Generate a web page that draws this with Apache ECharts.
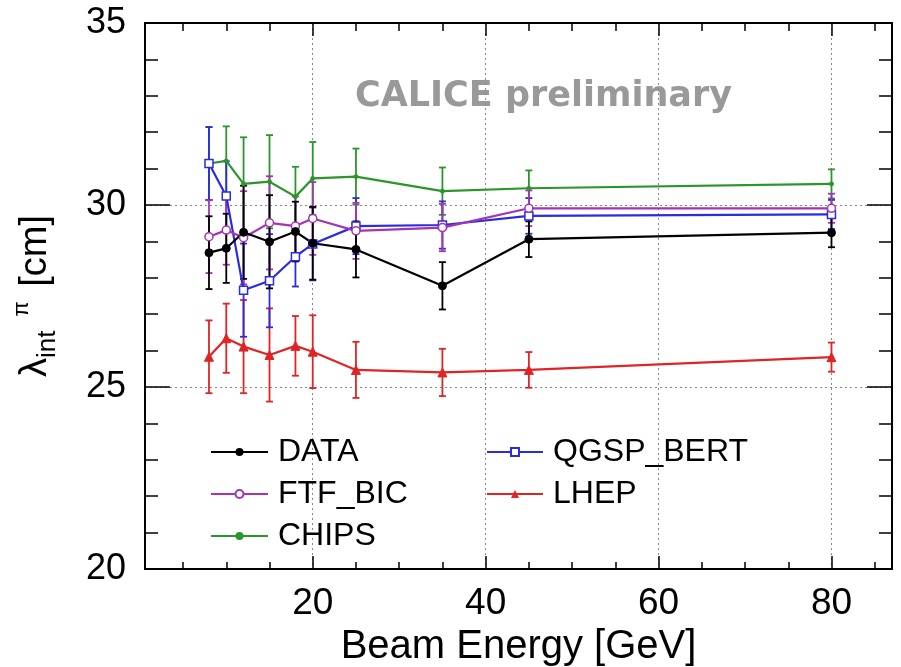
<!DOCTYPE html>
<html>
<head>
<meta charset="utf-8">
<style>
  html, body { margin: 0; padding: 0; background: #fff; }
  #main { width: 901px; height: 667px; }
</style>
<script src="https://cdn.jsdelivr.net/npm/echarts@6/dist/echarts.min.js"></script>
</head>
<body>
<div id="main"></div>
<script>
// beam energies [GeV]
const energies = [8, 10, 12, 15, 18, 20, 25, 35, 45, 80];
// lambda_int^pi [cm]
const dataVals  = [28.69, 28.81, 29.25, 28.99, 29.27, 28.95, 28.78, 27.78, 29.06, 29.24];
const ftfVals   = [29.13, 29.31, 29.10, 29.51, 29.42, 29.63, 29.29, 29.38, 29.91, 29.91];
const chipsVals = [31.14, 31.21, 30.58, 30.64, 30.23, 30.73, 30.78, 30.38, 30.46, 30.58];
const qgspVals  = [31.14, 30.25, 27.66, 27.92, 28.58, 28.93, 29.42, 29.45, 29.70, 29.74];
const lhepVals  = [25.83, 26.34, 26.11, 25.88, 26.13, 25.97, 25.47, 25.40, 25.47, 25.82];
// half-length of the error bars (same for every curve)
const errVals   = [1.00, 0.95, 1.28, 1.28, 0.82, 1.00, 0.77, 0.65, 0.49, 0.40];

const xMajor = [20, 40, 60, 80];
const xMinor = [5, 10, 15, 25, 30, 35, 45, 50, 55, 65, 70, 75, 85];

var dom = document.getElementById('main');
var myChart = echarts.init(dom, null, { renderer: 'canvas' });

const font = 'Liberation Sans, Arial, sans-serif';

function points(vals) {
    return energies.map((e, i) => [e, vals[i]]);
}
function bars(vals) {
    return energies.map((e, i) => [e, vals[i] - errVals[i], vals[i] + errVals[i]]);
}
function errorBars(name, vals, color) {
    return {
        name: name + ' err',
        type: 'custom',
        data: bars(vals),
        encode: { x: 0, y: [1, 2] },
        silent: true,
        z: 2,
        renderItem: function (params, api) {
            const x = api.value(0);
            const lo = api.coord([x, api.value(1)]);
            const hi = api.coord([x, api.value(2)]);
            const w = 3.5;
            const style = { stroke: color, lineWidth: 1.8 };
            return {
                type: 'group',
                children: [
                    { type: 'line', shape: { x1: lo[0], y1: lo[1], x2: hi[0], y2: hi[1] }, style: style },
                    { type: 'line', shape: { x1: lo[0] - w, y1: lo[1], x2: lo[0] + w, y2: lo[1] }, style: style },
                    { type: 'line', shape: { x1: hi[0] - w, y1: hi[1], x2: hi[0] + w, y2: hi[1] }, style: style }
                ]
            };
        }
    };
}
function curve(name, vals, color, symbol, size, hollow) {
    return {
        name: name,
        type: 'line',
        data: points(vals),
        symbol: symbol,
        symbolSize: size,
        showAllSymbol: true,
        z: 3,
        lineStyle: { color: color, width: 2.2 },
        itemStyle: hollow
            ? { color: '#fff', borderColor: color, borderWidth: 1.5 }
            : { color: color, borderColor: color },
        emphasis: { disabled: true }
    };
}

const frame = { show: true, onZero: false, lineStyle: { color: '#000', width: 2 } };
const dotted = { show: true, lineStyle: { color: '#888', width: 1, type: [2, 3] } };

function xAxisDef(position, ticks, len, withLabels) {
    return {
        type: 'value',
        position: position,
        min: 0.6,
        max: 87,
        axisLine: frame,
        axisTick: { show: true, inside: true, length: len, customValues: ticks,
                    lineStyle: { color: '#000', width: 1.5 } },
        axisLabel: withLabels
            ? { show: true, customValues: ticks, margin: 16, color: '#000', fontSize: 37, fontFamily: font }
            : { show: false },
        splitLine: withLabels && position === 'bottom' ? dotted : { show: false }
    };
}
function yAxisDef(position, withLabels) {
    return {
        type: 'value',
        position: position,
        min: 20,
        max: 35,
        interval: 5,
        axisLine: frame,
        axisTick: { show: true, inside: true, length: 25, lineStyle: { color: '#000', width: 1.5 } },
        minorTick: { show: true, splitNumber: 5, length: 13, lineStyle: { color: '#000', width: 1.5 } },
        axisLabel: withLabels
            ? { show: true, margin: 19, color: '#000', fontSize: 36, fontFamily: font, padding: [6, 0, 0, 0] }
            : { show: false },
        splitLine: withLabels ? dotted : { show: false }
    };
}

const xBottom = xAxisDef('bottom', xMajor, 13, true);
xBottom.name = 'Beam Energy [GeV]';
xBottom.nameLocation = 'middle';
xBottom.nameGap = 58;
xBottom.nameTextStyle = { color: '#000', fontSize: 40, fontFamily: font };

const yLeft = yAxisDef('left', true);
yLeft.name = '{l|λ}{sub|int}{sup|π}{l| [cm]}';
yLeft.nameLocation = 'middle';
yLeft.nameGap = 84;
yLeft.nameTextStyle = {
    color: '#000',
    fontFamily: font,
    rich: {
        l: { fontSize: 38, fontFamily: font, color: '#000', lineHeight: 50 },
        sub: { fontSize: 26, fontFamily: font, color: '#000', verticalAlign: 'bottom', lineHeight: 50 },
        sup: { fontSize: 22, fontFamily: font, color: '#000', verticalAlign: 'top', lineHeight: 50,
               padding: [0, 4, 0, 14] }
    }
};

const legendText = { color: '#000', fontSize: 32, lineHeight: 31, fontFamily: font, padding: [0, 0, 0, 5] };

const option = {
    backgroundColor: '#fff',
    animation: false,
    grid: { left: 145, right: 9, top: 23, bottom: 98, containLabel: false, outerBoundsMode: 'none' },
    xAxis: [
        xBottom,
        xAxisDef('bottom', xMinor, 7, false),
        xAxisDef('top', xMajor, 13, false),
        xAxisDef('top', xMinor, 8, false)
    ],
    yAxis: [yLeft, yAxisDef('right', false)],
    legend: [
        {
            data: ['DATA', 'FTF_BIC', 'CHIPS'],
            orient: 'vertical',
            left: 210, top: 436,
            itemWidth: 57, itemHeight: 10, itemGap: 10,
            padding: 0, selectedMode: false,
            textStyle: legendText
        },
        {
            data: ['QGSP_BERT', 'LHEP'],
            orient: 'vertical',
            left: 486, top: 436,
            itemWidth: 56, itemHeight: 10, itemGap: 10,
            padding: 0, selectedMode: false,
            textStyle: legendText
        }
    ],
    graphic: [
        {
            type: 'text',
            left: 355, top: 79,
            style: { text: 'CALICE preliminary', fill: '#999', fontSize: 35, fontWeight: 'bold', fontFamily: 'DejaVu Sans' }
        }
    ],
    series: [
        errorBars('LHEP', lhepVals, '#e02424'),
        errorBars('CHIPS', chipsVals, '#2a962a'),
        errorBars('QGSP_BERT', qgspVals, '#2b2be0'),
        errorBars('FTF_BIC', ftfVals, '#a434b4'),
        errorBars('DATA', dataVals, '#000'),
        curve('LHEP', lhepVals, '#e02424', 'triangle', 9, false),
        curve('CHIPS', chipsVals, '#2a962a', 'circle', 4, false),
        curve('QGSP_BERT', qgspVals, '#2b2be0', 'rect', 8, true),
        curve('FTF_BIC', ftfVals, '#a434b4', 'circle', 8, true),
        curve('DATA', dataVals, '#000', 'circle', 8, false)
    ]
};
myChart.setOption(option);
</script>
</body>
</html>
